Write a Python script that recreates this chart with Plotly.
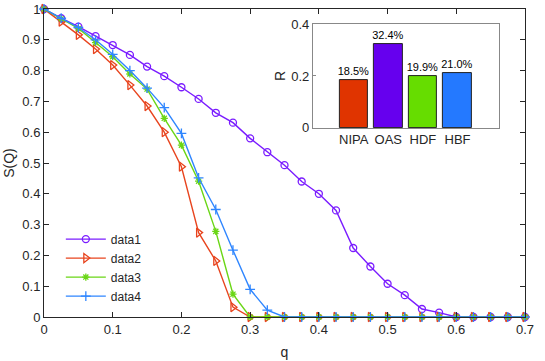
import plotly.graph_objects as go

q = [round(i * 0.025, 3) for i in range(29)]

data1 = [1.0, 0.970, 0.943, 0.912, 0.883, 0.851, 0.813, 0.782, 0.746, 0.708,
         0.663, 0.631, 0.580, 0.535, 0.493, 0.440, 0.400, 0.346, 0.224, 0.164,
         0.108, 0.071, 0.026, 0.014, 0.0, 0.0, 0.0, 0.0, 0.0]
data2 = [1.0, 0.959, 0.916, 0.870, 0.818, 0.753, 0.685, 0.600, 0.488, 0.274,
         0.182, 0.032, 0.0, 0.0, 0.0, 0.0, 0.0, 0.0, 0.0, 0.0,
         0.0, 0.0, 0.0, 0.0, 0.0, 0.0, 0.0, 0.0, 0.0]
data3 = [1.0, 0.968, 0.937, 0.891, 0.845, 0.789, 0.740, 0.645, 0.558, 0.441,
         0.278, 0.074, 0.0, 0.0, 0.0, 0.0, 0.0, 0.0, 0.0, 0.0,
         0.0, 0.0, 0.0, 0.0, 0.0, 0.0, 0.0, 0.0, 0.0]
data4 = [1.0, 0.970, 0.940, 0.900, 0.853, 0.800, 0.743, 0.680, 0.596, 0.452,
         0.349, 0.217, 0.090, 0.022, 0.0, 0.0, 0.0, 0.0, 0.0, 0.0,
         0.0, 0.0, 0.0, 0.0, 0.0, 0.0, 0.0, 0.0, 0.0]

methods = ["NIPA", "OAS", "HDF", "HBF"]
ratios = [0.185, 0.324, 0.199, 0.210]
ratio_labels = ["18.5%", "32.4%", "19.9%", "21.0%"]

FONT = "Liberation Sans, Arial, sans-serif"
AX = "#262626"

series = [
    ("data1", data1, "#7A1CFF", "circle-open", 7),
    ("data2", data2, "#E8441E", "triangle-right-open", 8),
    ("data3", data3, "#6AD616", "asterisk-open", 6),
    ("data4", data4, "#2F86FF", "cross-thin-open", 7),
]

fig = go.Figure()
for name, ys, col, sym, sz in series:
    fig.add_trace(go.Scatter(
        x=q, y=ys, name=name, mode="lines+markers", cliponaxis=False,
        line=dict(color=col, width=1.4),
        marker=dict(symbol=sym, size=sz, color=col, line=dict(color=col, width=1.3)),
    ))

# inset bar chart
fig.add_trace(go.Bar(
    x=list(range(len(methods))), y=ratios, text=ratio_labels,
    textposition="outside", cliponaxis=False, constraintext="none",
    textfont=dict(size=11, color="#000000", family=FONT),
    marker=dict(color=["#E03400", "#6600EE", "#66DD00", "#2479FF"],
                line=dict(color="#222222", width=1)),
    width=0.82, xaxis="x2", yaxis="y2", showlegend=False,
))

axis_common = dict(
    showgrid=False, zeroline=False, showline=True, linecolor=AX, linewidth=1,
    mirror="ticks", ticks="inside", ticklen=5, tickcolor=AX, automargin=False,
    tickfont=dict(size=13, color=AX, family=FONT),
)

fig.update_layout(
    width=545, height=361,
    margin=dict(l=44, r=20, t=9, b=44),
    paper_bgcolor="white", plot_bgcolor="white",
    font=dict(family=FONT, size=13, color=AX),
    xaxis=dict(range=[0, 0.7], tickvals=[0, 0.1, 0.2, 0.3, 0.4, 0.5, 0.6, 0.7],
               ticktext=["0", "0.1", "0.2", "0.3", "0.4", "0.5", "0.6", "0.7"],
               title=dict(text="q", font=dict(size=14), standoff=11), **axis_common),
    yaxis=dict(range=[0, 1], dtick=0.1, tickformat=".1~f",
               title=dict(text="S(Q)", font=dict(size=14), standoff=4), **axis_common),
    xaxis2=dict(domain=[0.559, 0.946], anchor="y2", range=[-1.18, 4.2],
                tickvals=list(range(len(methods))), ticktext=methods,
                showgrid=False, zeroline=False, showline=True, linecolor="#888888",
                mirror=True, ticks="", automargin=False,
                tickfont=dict(size=13, color=AX, family=FONT)),
    yaxis2=dict(domain=[0.614, 0.951], anchor="x2", range=[0, 0.4],
                tickvals=[0, 0.2, 0.4], ticktext=["0", "0.2", "0.4"],
                showgrid=False, zeroline=False, showline=True, linecolor="#888888",
                mirror=True, ticks="inside", ticklen=3, tickcolor="#888888",
                automargin=False, tickfont=dict(size=13, color=AX, family=FONT),
                title=dict(text="R", font=dict(size=14), standoff=2)),
    legend=dict(x=0.035, y=0.3, xanchor="left", yanchor="top", itemwidth=40,
                bgcolor="rgba(255,255,255,0)", borderwidth=0,
                font=dict(size=12, color=AX, family=FONT), tracegroupgap=0),
    bargap=0,
)

# white background for inset area
fig.add_shape(type="rect", xref="paper", yref="paper", x0=0.559, x1=0.946,
              y0=0.614, y1=0.951, fillcolor="white", line=dict(width=0), layer="below")

fig.write_html("out.html", config={"displayModeBar": False},
               post_script="document.body.style.margin='0';")
